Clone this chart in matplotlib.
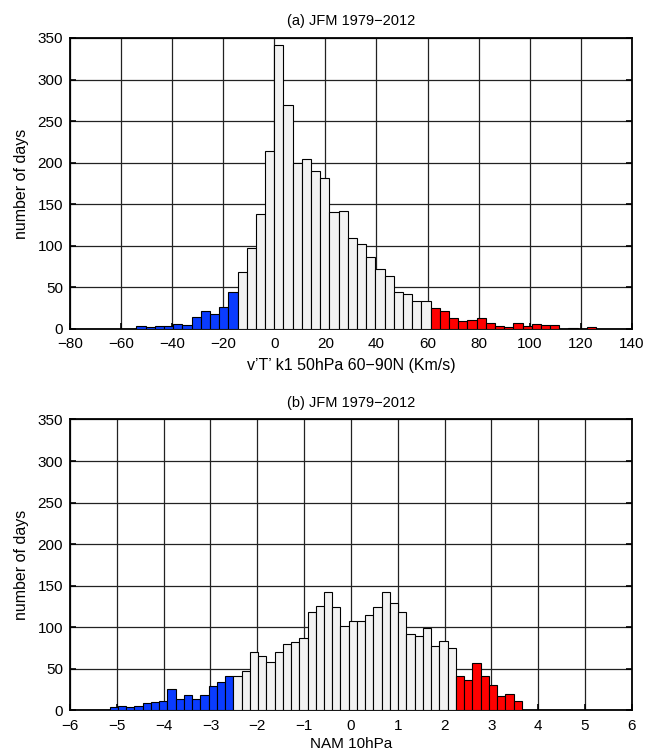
import matplotlib
matplotlib.use("Agg")
import matplotlib.pyplot as plt
import numpy as np

plt.rcParams['font.family'] = ['Liberation Sans', 'DejaVu Sans']
plt.rcParams['font.size'] = 11

# (a) v'T' k1 50hPa 60-90N, 50 bins from -54 to 126
vt_edge0, vt_width = -54.0, 3.6
vt_blue = [4, 2, 3, 4, 6, 5, 14, 22, 18, 27, 45]
vt_white = [69, 97, 138, 214, 341, 269, 199, 205, 190, 182, 141, 142,
            109, 102, 86, 72, 64, 44, 42, 34, 34]
vt_red = [25, 22, 13, 10, 11, 13, 7, 3, 2, 7, 4, 6, 5, 5, 0, 1, 0, 2]

# (b) NAM 10hPa, 50 bins from -5.15 to 3.65
nam_edge0, nam_width = -5.15, 0.176
nam_blue = [4, 5, 4, 5, 9, 10, 11, 26, 14, 19, 14, 19, 30, 34, 42]
nam_white = [42, 47, 70, 66, 58, 70, 80, 82, 87, 118, 126, 143, 125, 102,
             108, 108, 115, 124, 142, 129, 119, 92, 90, 99, 78, 84, 75]
nam_red = [41, 37, 57, 41, 31, 18, 20, 11]

BLUE = '#0a3cff'
RED = '#ff0000'
WHITE = '#f2f2f2'


def draw_hist(ax, edge0, width, blue, white, red):
    counts = blue + white + red
    colors = [BLUE] * len(blue) + [WHITE] * len(white) + [RED] * len(red)
    left = edge0 + width * np.arange(len(counts))
    ax.bar(left, counts, width=width, align='edge', color=colors,
           edgecolor='black', linewidth=0.8, zorder=3)
    ax.grid(True, color='#222222', linewidth=0.9, zorder=0)
    ax.set_ylim(0, 350)
    ax.set_yticks(np.arange(0, 351, 50))
    ax.tick_params(direction='in', length=4, width=1.2, top=False, right=True,
                   labelsize=11)
    ax.tick_params(axis='x', pad=6)
    ax.tick_params(axis='y', pad=5)
    for s in ax.spines.values():
        s.set_linewidth(1.3)
    ax.set_ylabel("number of days", fontsize=11.5, labelpad=6)


fig = plt.figure(figsize=(6.48, 7.54), dpi=100)
ax1 = fig.add_axes([0.108, 0.5637, 0.867, 0.386])
ax2 = fig.add_axes([0.108, 0.0577, 0.867, 0.386])

draw_hist(ax1, vt_edge0, vt_width, vt_blue, vt_white, vt_red)
ax1.set_xlim(-80, 140)
ax1.set_xticks(np.arange(-80, 141, 20))
ax1.set_xticklabels([f"{v}".replace('-', '\u2212') for v in range(-80, 141, 20)])
ax1.set_title("(a) JFM 1979\u22122012", fontsize=10.5, pad=9)
ax1.set_xlabel("v\u2019T\u2019 k1 50hPa 60\u221290N (Km/s)", fontsize=11.5, labelpad=5)

draw_hist(ax2, nam_edge0, nam_width, nam_blue, nam_white, nam_red)
ax2.set_xlim(-6, 6)
ax2.set_xticks(np.arange(-6, 7, 1))
ax2.set_xticklabels([f"{v}".replace('-', '\u2212') for v in range(-6, 7)])
ax2.set_title("(b) JFM 1979\u22122012", fontsize=10.5, pad=9)
ax2.set_xlabel("NAM 10hPa", fontsize=11, labelpad=3)

fig.savefig("out.png", dpi=100)
